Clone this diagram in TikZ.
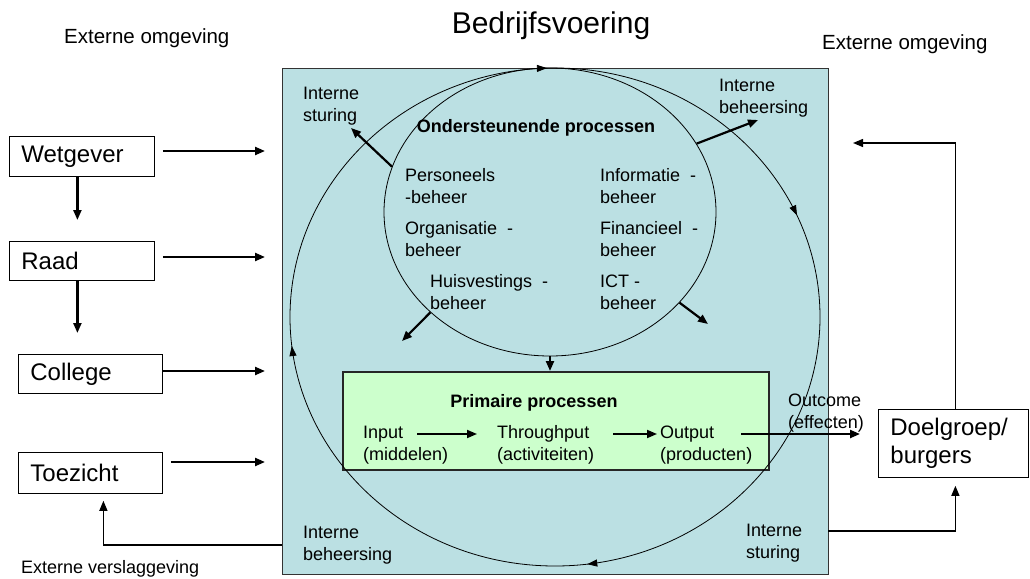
\documentclass[tikz,border=0pt]{standalone}
\usepackage{fontspec}
\setmainfont{Liberation Sans}
\usetikzlibrary{arrows.meta,decorations.markings,shapes.geometric}
\definecolor{orgteal}{RGB}{187,224,227}
\definecolor{primgreen}{RGB}{204,255,204}

\begin{document}
\begin{tikzpicture}[x=1pt,y=-1pt,
  txt/.style={font=\fontsize{18}{22}\selectfont, inner sep=0pt, anchor=west, align=left},
  boldtxt/.style={font=\fontsize{18}{22}\selectfont\bfseries, inner sep=0pt},
  actor/.style={draw, line width=0.8pt, fill=white, font=\fontsize{24}{28}\selectfont,
    inner xsep=12pt, inner ysep=0pt, align=left, anchor=north west},
  flow/.style={line width=2.2pt, -{Triangle[length=10pt,width=8pt]}},
  ret/.style={line width=1.3pt, -{Triangle[length=10pt,width=8pt]}},
  cyc/.style={line width=0.8pt}
]
\useasboundingbox (0,0) rectangle (1030,578);

% titles and surroundings
\node[font=\fontsize{30}{34}\selectfont, inner sep=0pt] (title) at (551,26) {Bedrijfsvoering};
\node[txt, font=\fontsize{20.5}{24}\selectfont] (envL) at (64,38) {Externe omgeving};
\node[txt, font=\fontsize{20.5}{24}\selectfont] (envR) at (822,44) {Externe omgeving};
\node[txt] (verslag) at (21,569) {Externe verslaggeving};

% organisation
\node[draw=black!80, line width=1pt, fill=orgteal, minimum width=546pt, minimum height=506pt,
  inner sep=0pt, anchor=north west] (org) at (282,68) {};
\node[draw=black!85, line width=1.5pt, fill=primgreen, minimum width=426pt, minimum height=98pt,
  inner sep=0pt, anchor=north west] (prim) at (342,371) {};

% support processes and the management cycle
\node[draw, cyc, ellipse, minimum width=332pt, minimum height=288pt, inner sep=0pt] (inner) at (550,212) {};
\draw[cyc, postaction={decorate}, decoration={markings,
    mark=at position 0.23 with {\arrow{Triangle[length=10pt,width=7pt]}},
    mark=at position 0.482 with {\arrow{Triangle[length=10pt,width=7pt]}},
    mark=at position 0.745 with {\arrow{Triangle[length=10pt,width=7pt]}},
    mark=at position 0.935 with {\arrow{Triangle[length=10pt,width=7pt]}}}]
  (555,317) ellipse [x radius=265, y radius=249];

% actors
\node[actor, text width=121pt, minimum height=40pt] (wet) at (9,136) {Wetgever};
\node[actor, text width=121pt, minimum height=39pt] (raad) at (9,241) {Raad};
\node[actor, text width=120pt, minimum height=39pt] (coll) at (18,354) {College};
\node[actor, text width=120pt, minimum height=41pt] (toez) at (18,452) {Toezicht};
\node[actor, text width=126pt, minimum height=68pt, inner xsep=12pt] (doel) at (878,409) {Doelgroep/\\burgers};

% texts inside the organisation
\node[txt] (stTL) at (303,106) {Interne\\sturing};
\node[txt] (behTR) at (719,98) {Interne\\beheersing};
\node[boldtxt] (ondt) at (536,128) {Ondersteunende processen};
\node[txt] (pers) at (405,186.5) {Personeels\\-beheer};
\node[txt] (orgb) at (405,239.5) {Organisatie \ -\\beheer};
\node[txt] (huis) at (430,292) {Huisvestings \ -\\beheer};
\node[txt] (info) at (600,186.5) {Informatie \ -\\beheer};
\node[txt] (fin) at (600,239.5) {Financieel \ -\\beheer};
\node[txt] (ict) at (600,292) {ICT -\\beheer};
\node[boldtxt] (primt) at (534,403) {Primaire processen};
\node[txt] (inW) at (363,434) {Input};
\node[txt] (inS) at (363,456) {(middelen)};
\node[txt] (thW) at (497,434) {Throughput};
\node[txt] (thS) at (497,456) {(activiteiten)};
\node[txt] (ouW) at (660,434) {Output};
\node[txt] (ouS) at (660,456) {(producten)};
\node[txt] (outc) at (788,413.5) {Outcome\\(effecten)};
\node[txt] (behBL) at (303,545.5) {Interne\\beheersing};
\node[txt] (stBR) at (746,543.5) {Interne\\sturing};

% arrow ends on the organisation
\coordinate (wetIn) at (265,151);
\coordinate (raadIn) at (265,257);
\coordinate (collIn) at (265,371);
\coordinate (toezIn) at (265,462);
\coordinate (repOut) at (282,545);
\coordinate (fbOut) at (828,531);
\coordinate (fbIn) at (853,143);
\coordinate (stEnd) at (351,128);
\coordinate (behEnd) at (758,120);
\coordinate (llEnd) at (402,341);
\coordinate (lrEnd) at (708,324);

% inputs from the environment
\draw[flow, shorten <=8pt] (wet.east |- wetIn) -- (wetIn);
\draw[flow, shorten <=8pt] (raad.east |- raadIn) -- (raadIn);
\draw[flow] (coll.east |- collIn) -- (collIn);
\draw[flow, shorten <=8pt] (toez.east |- toezIn) -- (toezIn);
\draw[flow, shorten >=21pt] ([xshift=-4.5pt]wet.south) -- ([xshift=-4.5pt]wet.south |- raad.north);
\draw[flow, shorten >=21pt] ([xshift=-4.5pt]raad.south) -- ([xshift=-4.5pt]raad.south |- coll.north);

% reporting and feedback
\draw[ret, shorten >=7pt] (repOut) -| ([xshift=13pt]toez.south);
\draw[ret, shorten >=8pt] (fbOut) -| ([xshift=2pt]doel.south);
\draw[ret] ([xshift=2pt]doel.north) |- (fbIn);

% arrows of the support processes
\draw[flow] (inner.164) -- (stEnd);
\draw[flow] (inner.25) -- (behEnd);
\draw[flow] (inner.220) -- (llEnd);
\draw[flow] (inner.325) -- (lrEnd);
\draw[flow] (inner.south) -- (inner.south |- prim.north);

% primary process chain
\draw[flow, line width=1.8pt, shorten <=14pt, shorten >=20pt] (inW.east) -- (thW.west);
\draw[flow, line width=1.8pt, shorten <=24pt, shorten >=3pt] (thW.east) -- (ouW.west);
\draw[flow, shorten <=27pt, shorten >=18pt] (ouW.east) -- (ouW.east -| doel.west);
\end{tikzpicture}
\end{document}
